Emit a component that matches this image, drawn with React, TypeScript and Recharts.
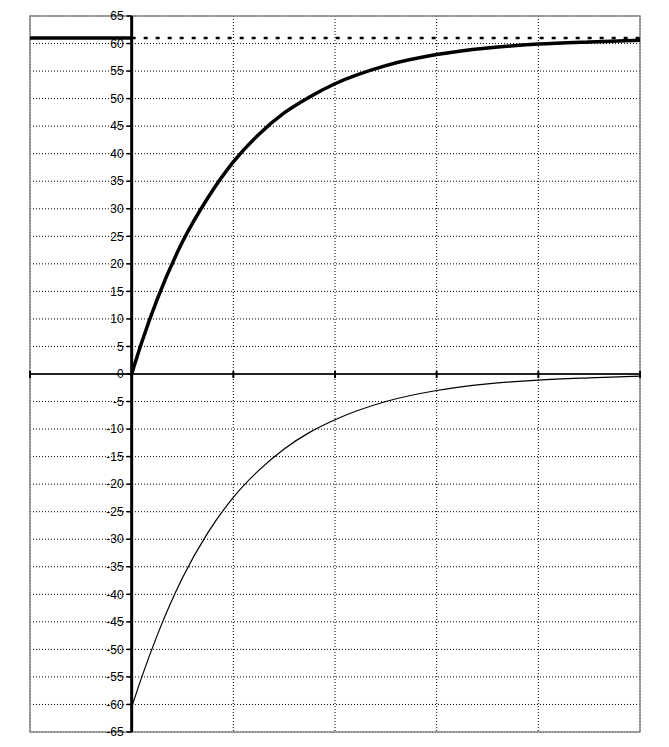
import React from 'react';
import {
  ComposedChart,
  Line,
  XAxis,
  YAxis,
  CartesianGrid,
  ReferenceLine,
  ReferenceArea,
  ReferenceDot,
} from 'recharts';

// time axis (one unit per grid column)
const xTicks = [-1, 0, 1, 2, 3, 4, 5];
const yTicks = [
  -65, -60, -55, -50, -45, -40, -35, -30, -25, -20, -15, -10, -5, 0, 5, 10, 15,
  20, 25, 30, 35, 40, 45, 50, 55, 60, 65,
];

const tValues = [0, 0.1, 0.25, 0.5, 0.75, 1, 1.25, 1.5, 1.75, 2, 2.5, 3, 3.5, 4, 4.5, 5];
const riseValues = [0, 5.8, 13.5, 24, 32, 38.5, 43.5, 47.4, 50.3, 52.7, 56, 58, 59.2, 59.9, 60.3, 60.6];
const fallValues = [-60.5, -55, -47.5, -37, -28.8, -22.4, -17.5, -13.6, -10.6, -8.3, -5, -3, -1.8, -1.1, -0.7, -0.4];

// steady level before / after the step
const levelValue = 61;
const levelBeforeX = [-1, 0];
const levelAfterX = [0, 5];

const curveData = tValues.map((t, i) => ({ t, rise: riseValues[i], fall: fallValues[i] }));
const beforeData = levelBeforeX.map((t) => ({ t, level: levelValue }));
const afterData = levelAfterX.map((t) => ({ t, level: levelValue }));

const font = '"Liberation Sans", Arial, sans-serif';

const yTickMark = (p: any) => (
  <line x1={p.cx - 5} x2={p.cx} y1={p.cy} y2={p.cy} stroke="#000" strokeWidth={1.5} />
);
const xTickMark = (p: any) => (
  <line x1={p.cx} x2={p.cx} y1={p.cy - 3} y2={p.cy + 4} stroke="#000" strokeWidth={2} />
);

export default function App() {
  return (
    <div style={{ position: 'absolute', left: 0, top: 0, background: '#fff' }}>
      <ComposedChart
        width={669}
        height={747}
        margin={{ top: 16, right: 29, bottom: 15, left: 30 }}
      >
        <XAxis type="number" dataKey="t" domain={[-1, 5]} ticks={xTicks} hide allowDuplicatedCategory={false} />
        <YAxis type="number" domain={[-65, 65]} ticks={yTicks} hide />
        <CartesianGrid
          stroke="#000"
          strokeDasharray="1 2"
          horizontalValues={yTicks}
          verticalValues={xTicks}
        />
        <ReferenceArea x1={-1} x2={5} y1={-65} y2={65} fill="none" stroke="#888" strokeWidth={1.5} />
        <ReferenceLine y={0} stroke="#222" strokeWidth={2} />
        <ReferenceLine x={0} stroke="#000" strokeWidth={3} />
        {xTicks.map((v) => (
          <ReferenceDot key={'x' + v} x={v} y={0} r={1} shape={xTickMark} />
        ))}
        {yTicks.map((v) => (
          <ReferenceDot
            key={'y' + v}
            x={0}
            y={v}
            r={1}
            shape={yTickMark}
            label={{ value: v, position: 'left', offset: 7, fontSize: 12, fontFamily: font, fill: '#000' }}
          />
        ))}
        <Line
          data={afterData}
          dataKey="level"
          type="linear"
          stroke="#000"
          strokeWidth={2.5}
          strokeDasharray="4 8"
          dot={false}
          isAnimationActive={false}
        />
        <Line
          data={beforeData}
          dataKey="level"
          type="linear"
          stroke="#000"
          strokeWidth={3.5}
          dot={false}
          isAnimationActive={false}
        />
        <Line
          data={curveData}
          dataKey="fall"
          type="monotone"
          stroke="#000"
          strokeWidth={1.2}
          dot={false}
          isAnimationActive={false}
        />
        <Line
          data={curveData}
          dataKey="rise"
          type="monotone"
          stroke="#000"
          strokeWidth={3.5}
          dot={false}
          isAnimationActive={false}
        />
      </ComposedChart>
    </div>
  );
}
